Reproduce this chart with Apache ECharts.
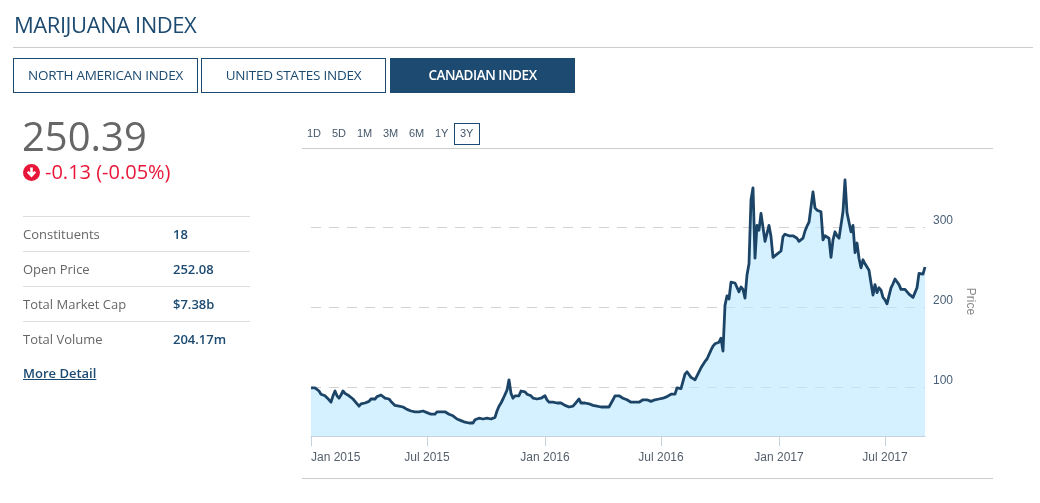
<!DOCTYPE html>
<html>
<head>
<meta charset="utf-8">
<title>Marijuana Index</title>
<script src="https://cdn.jsdelivr.net/npm/echarts@6/dist/echarts.min.js"></script>
<style>
  body { margin: 0; background: #fff; font-family: "Open Sans", sans-serif; color: #666; }
  .wrap { position: relative; width: 1040px; height: 503px; overflow: hidden; }
  #main { position: absolute; left: 0; top: 0; width: 1040px; height: 503px; }
  .abs { position: absolute; white-space: nowrap; }
  .title { left: 14px; top: 9px; font-size: 22px; line-height: 30px; color: #1c4a70; letter-spacing: -0.45px; font-weight: 500; }
  .rule { position: absolute; height: 1px; background: #ccc; }
  .tab { position: absolute; top: 58px; height: 33px; line-height: 33px; width: 183px; border: 1px solid #1c4a70;
    text-align: center; font-size: 13.5px; color: #1c4a70; letter-spacing: -0.25px; }
  .tab.active { background: #1c4a70; color: #fff; font-weight: 600; letter-spacing: -0.45px; }
  .price { left: 22px; top: 108px; font-size: 40px; line-height: 56px; color: #666; font-weight: 500; }
  .change { left: 45px; top: 159px; font-size: 20px; line-height: 26px; color: #e8173a; }
  .stat-label { left: 23px; font-size: 13px; line-height: 18px; color: #666; }
  .stat-value { left: 173px; font-size: 13px; line-height: 18px; color: #1c4a70; font-weight: 600; }
  .more { left: 23px; top: 364px; font-size: 13px; line-height: 18px; color: #1c4a70; font-weight: 600; text-decoration: underline; }
  .range { top: 126px; font-family: "Liberation Sans", sans-serif; font-size: 11px; line-height: 14px; color: #44576a; }
  .range-box { position: absolute; left: 454px; top: 123px; width: 24px; height: 20px; border: 1px solid #1c4a70; }
</style>
</head>
<body>
<div class="wrap">
  <div id="main"></div>

  <div class="abs title">MARIJUANA INDEX</div>
  <div class="rule" style="left:13px;top:47px;width:1020px"></div>
  <div class="tab" style="left:13px">NORTH AMERICAN INDEX</div>
  <div class="tab" style="left:201px">UNITED STATES INDEX</div>
  <div class="tab active" style="left:390px">CANADIAN INDEX</div>

  <div class="abs price">250.39</div>
  <svg class="abs" style="left:23px;top:164px" width="17" height="17" viewBox="0 0 17 17">
    <circle cx="8.5" cy="8.5" r="8.5" fill="#e8173a"/>
    <path d="M8.5 13.5 L3.8 8.6 L5.7 6.9 L7.2 8.4 L7.2 3.5 L9.8 3.5 L9.8 8.4 L11.3 6.9 L13.2 8.6 Z" fill="#fff"/>
  </svg>
  <div class="abs change">-0.13 (-0.05%)</div>

  <div class="rule" style="left:23px;top:216px;width:227px;background:#ddd"></div>
  <div class="rule" style="left:23px;top:251px;width:227px;background:#ddd"></div>
  <div class="rule" style="left:23px;top:286px;width:227px;background:#ddd"></div>
  <div class="rule" style="left:23px;top:321px;width:227px;background:#ddd"></div>
  <div class="abs stat-label" style="top:225px">Constituents</div>
  <div class="abs stat-value" style="top:225px">18</div>
  <div class="abs stat-label" style="top:260px">Open Price</div>
  <div class="abs stat-value" style="top:260px">252.08</div>
  <div class="abs stat-label" style="top:295px">Total Market Cap</div>
  <div class="abs stat-value" style="top:295px">$7.38b</div>
  <div class="abs stat-label" style="top:330px">Total Volume</div>
  <div class="abs stat-value" style="top:330px">204.17m</div>
  <div class="abs more">More Detail</div>

  <div class="abs range" style="left:307px">1D</div>
  <div class="abs range" style="left:332px">5D</div>
  <div class="abs range" style="left:357px">1M</div>
  <div class="abs range" style="left:383px">3M</div>
  <div class="abs range" style="left:409px">6M</div>
  <div class="abs range" style="left:435px">1Y</div>
  <div class="range-box"></div>
  <div class="abs range" style="left:460px">3Y</div>
  <div class="rule" style="left:302px;top:148px;width:691px"></div>
  <div class="rule" style="left:302px;top:478px;width:691px"></div>
</div>

<script>
// 指数收盘价，约每两个像素读一个点
const priceValues = [
  99, 99, 99, 100, 95, 91, 90, 89, 88, 84, 81, 89, 95, 89, 86, 90, 95, 92, 90, 89,
  88, 85, 82, 80, 76, 79, 81, 80, 81, 82, 85, 86, 85, 88, 86, 90, 88, 86, 85, 85,
  82, 80, 77, 76, 76, 76, 75, 74, 72, 71, 70, 69, 69, 70, 69, 68, 70, 69, 68, 68,
  66, 65, 66, 69, 69, 69, 68, 69, 68, 66, 65, 64, 62, 60, 59, 58, 56, 56, 55, 55,
  55, 55, 59, 61, 61, 61, 60, 61, 61, 60, 60, 61, 62, 70, 76, 80, 85, 86, 96, 109,
  92, 86, 89, 90, 89, 95, 95, 94, 91, 90, 89, 86, 85, 85, 85, 86, 88, 89, 84, 81,
  82, 81, 81, 80, 80, 80, 79, 77, 77, 75, 75, 76, 79, 79, 85, 80, 80, 80, 79, 79,
  77, 77, 76, 76, 75, 75, 75, 75, 75, 75, 77, 84, 89, 90, 89, 88, 86, 85, 84, 82,
  81, 81, 81, 81, 81, 81, 84, 85, 84, 82, 82, 82, 84, 85, 85, 86, 86, 88, 88, 89,
  91, 90, 91, 99, 99, 98, 99, 116, 119, 118, 112, 111, 109, 111, 119, 124, 124, 132, 135, 134,
  146, 151, 154, 155, 156, 161, 145, 202, 214, 210, 231, 232, 230, 232, 219, 225, 222, 211, 240, 254,
  334, 349, 261, 302, 296, 317, 315, 282, 280, 302, 288, 262, 261, 266, 267, 270, 288, 291, 291, 289,
  291, 289, 291, 286, 282, 280, 286, 295, 301, 306, 325, 344, 324, 321, 319, 319, 284, 289, 290, 286,
  262, 284, 294, 289, 286, 288, 319, 359, 318, 306, 294, 302, 268, 280, 261, 249, 259, 254, 255, 246,
  230, 215, 228, 218, 224, 221, 212, 209, 204, 214, 224, 229, 235, 236, 228, 222, 222, 222, 220, 216,
  214, 212, 214, 224, 242, 240, 241, 250
];
const xTickLabels = ['Jan 2015', 'Jul 2015', 'Jan 2016', 'Jul 2016', 'Jan 2017', 'Jul 2017'];
const xTickIndex = [0, 58, 117, 175, 234, 287];
const yTickValues = [100, 200, 300];

const categories = priceValues.map((v, i) => xTickLabels[xTickIndex.indexOf(i)] || '');
const isTick = (i) => xTickIndex.includes(i);

const myChart = echarts.init(document.getElementById('main'));
const option = {
  animation: false,
  grid: { left: 311, top: 167, width: 614, bottom: 67 },
  tooltip: { trigger: 'axis' },
  xAxis: {
    type: 'category',
    boundaryGap: false,
    data: categories,
    axisLine: { lineStyle: { color: '#c6d2de', width: 1 } },
    axisTick: { length: 10, interval: isTick, lineStyle: { color: '#c6d2de' } },
    axisLabel: {
      interval: isTick,
      alignMinLabel: 'left',
      margin: 16,
      color: '#55606c',
      fontFamily: 'Liberation Sans',
      fontSize: 12
    },
    splitLine: { show: false }
  },
  yAxis: {
    type: 'value',
    position: 'right',
    min: 38.75,
    max: 375,
    name: 'Price',
    nameLocation: 'middle',
    nameRotate: -90,
    nameGap: 39,
    nameTextStyle: { color: '#888', fontFamily: 'Liberation Sans', fontSize: 12 },
    axisLine: { show: false },
    axisTick: { show: false, customValues: yTickValues },
    axisLabel: {
      customValues: yTickValues,
      margin: 8,
      color: '#4a6078',
      fontFamily: 'Liberation Sans',
      fontSize: 12,
      verticalAlign: 'bottom'
    },
    splitLine: { show: true, lineStyle: { color: '#d2d2d2', type: [10, 8], width: 1 } }
  },
  series: [
    {
      name: 'Price',
      type: 'line',
      data: priceValues,
      showSymbol: false,
      lineStyle: { color: '#1c4466', width: 2.8, join: 'round' },
      areaStyle: { color: 'rgba(190, 234, 255, 0.65)', opacity: 1, origin: 'start' }
    }
  ]
};
myChart.setOption(option);
</script>
</body>
</html>
